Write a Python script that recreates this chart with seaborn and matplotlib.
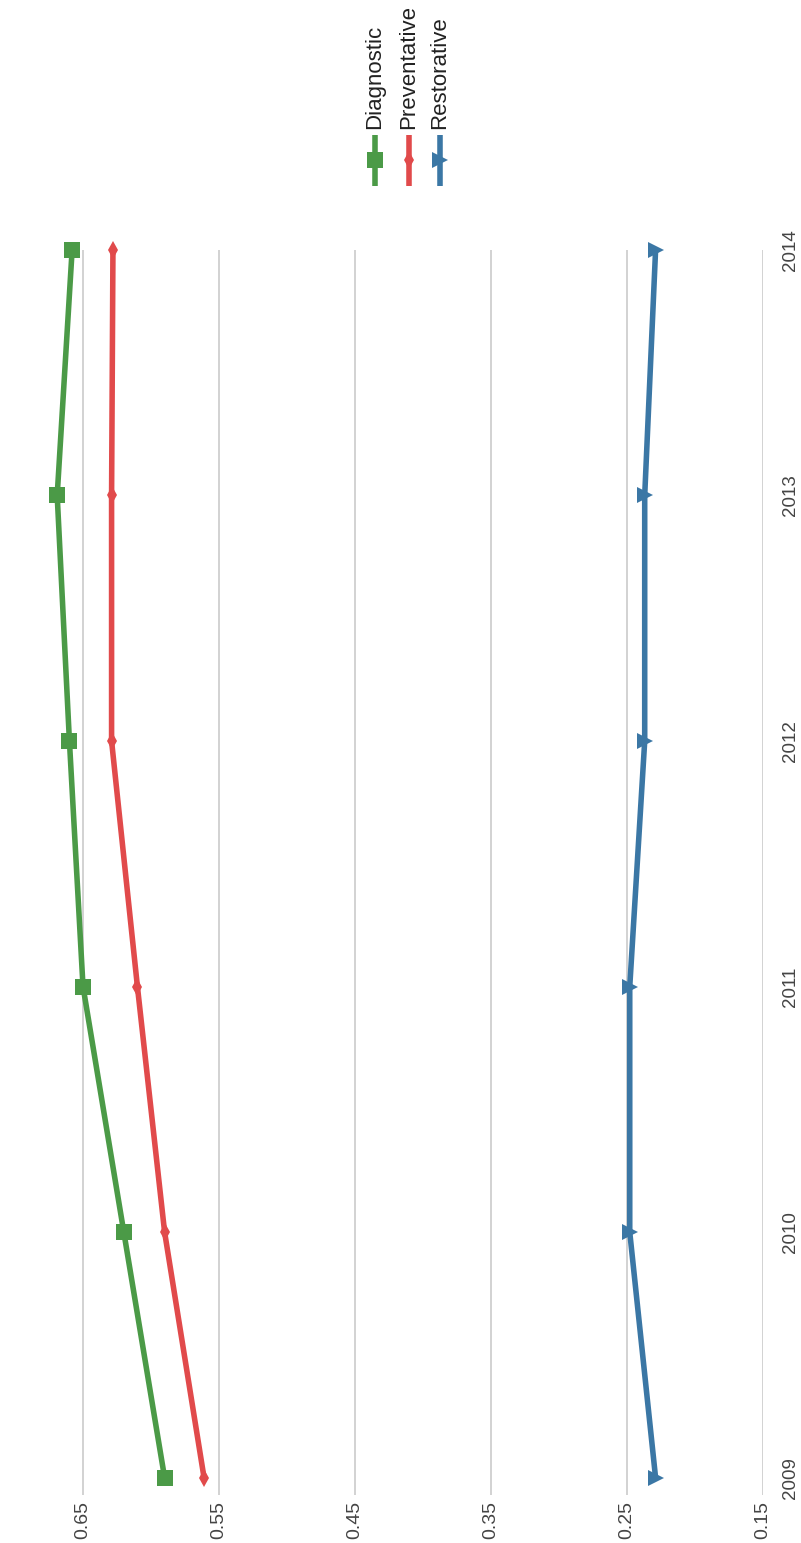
import numpy as np
import pandas as pd
import matplotlib
matplotlib.use("Agg")
import matplotlib.pyplot as plt
from matplotlib.lines import Line2D
import seaborn as sns

# ---- data ----
years = [2009, 2010, 2011, 2012, 2013, 2014]
series_names = ["Diagnostic", "Preventative", "Restorative"]
diagnostic = [0.590, 0.620, 0.650, 0.660, 0.669, 0.658]
preventative = [0.561, 0.590, 0.610, 0.629, 0.629, 0.628]
restorative = [0.229, 0.248, 0.248, 0.237, 0.237, 0.229]
value_ticks = [0.15, 0.25, 0.35, 0.45, 0.55, 0.65]
value_tick_labels = ["0.15", "0.25", "0.35", "0.45", "0.55", "0.65"]
year_tick_labels = ["2009", "2010", "2011", "2012", "2013", "2014"]

colors = ["#4b9a47", "#e14a4b", "#3b77a5"]
markers = ["s", "d", ">"]
marker_sizes = [12, 9, 12]

sns.set_theme(style="white")
plt.rcParams["font.family"] = ["Liberation Sans", "DejaVu Sans"]

df = pd.DataFrame({
    "year": years * 3,
    "value": diagnostic + preventative + restorative,
    "series": sum([[s] * len(years) for s in series_names], []),
})

fig = plt.figure(figsize=(8.01, 15.43), dpi=100)
ax = fig.add_axes([0.0612, 0.0311, 0.8914, 0.807])

for name, c, m, ms in zip(series_names, colors, markers, marker_sizes):
    sub = df[df["series"] == name]
    sns.lineplot(data=sub, x="value", y="year", orient="y", color=c,
                 marker=m, markersize=ms, markeredgewidth=0, linewidth=4,
                 ax=ax, clip_on=False, legend=False, zorder=3)

ax.set_xlim(0.675, 0.15)
ax.set_ylim(2008.93, 2014)
ax.set_xticks(value_ticks)
ax.set_xticklabels(value_tick_labels, rotation=90, fontsize=14, color="#444444")
ax.yaxis.tick_right()
ax.set_yticks(years)
ax.set_yticklabels(year_tick_labels, rotation=90, va="center", fontsize=13.5, color="#444444")
ax.tick_params(axis="x", length=0, pad=4)
ax.tick_params(axis="y", length=0, pad=14)
ax.xaxis.grid(True, color="#cfcfcf", linewidth=1.3)
ax.yaxis.grid(False)
for sp in ax.spines.values():
    sp.set_visible(False)
ax.set_xlabel("")
ax.set_ylabel("")

# ---- legend (rotated, drawn in figure coordinates) ----
W, H = 801.0, 1543.0
leg_x = [375, 409, 440]
for name, c, m, ms, xp in zip(series_names, colors, markers, marker_sizes, leg_x):
    fx = xp / W
    fig.add_artist(Line2D([fx, fx], [1 - 135 / H, 1 - 186 / H], transform=fig.transFigure,
                          color=c, linewidth=4, solid_capstyle="butt"))
    fig.add_artist(Line2D([fx], [1 - 160 / H], transform=fig.transFigure,
                          color=c, marker=m, markersize=ms, markeredgewidth=0, linestyle="none"))
    fig.text(fx, 1 - 129 / H, name, rotation=90, ha="center", va="bottom",
             fontsize=16, color="#222222")

fig.savefig("out.png", dpi=100)
